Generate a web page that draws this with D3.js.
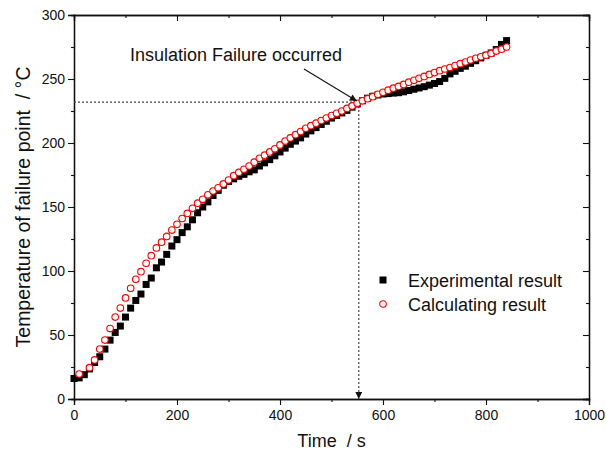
<!DOCTYPE html>
<html>
<head>
<meta charset="utf-8">
<script src="https://cdn.jsdelivr.net/npm/d3@7"></script>
<style>
  body { margin: 0; background: #fff; }
  svg text { font-family: "Liberation Sans", Arial, sans-serif; fill: #111; white-space: pre; }
</style>
</head>
<body>
<svg id="chart" width="606" height="454"></svg>
<script>
// Donnees (temps en s, temperature en degC).
const expTime = [0, 10, 20, 30, 40, 50, 60, 70, 80, 90, 100, 110, 120, 130, 140, 150, 160, 170, 180, 190,
    200, 210, 220, 230, 240, 250, 260, 270, 280, 290, 300, 310, 320, 330, 340, 350, 360, 370, 380, 390,
    400, 410, 420, 430, 440, 450, 460, 470, 480, 490, 500, 510, 520, 530, 540, 550, 560, 570, 580, 590,
    600, 610, 620, 630, 640, 650, 660, 670, 680, 690, 700, 710, 720, 730, 740, 750, 760, 770, 780, 790,
    800, 810, 820, 830, 840];
const expTemp = [16, 16.5, 19, 23.5, 28.5, 33, 39, 46, 52, 57, 64, 71, 77, 82, 89.5, 94.5, 102.5, 107, 113, 119.5,
    124.5, 130, 134.5, 140, 145.5, 150, 154, 159, 163, 167, 170, 172, 174, 175.5, 177.5, 179, 182, 184.5, 187, 190,
    193, 196, 199, 201.5, 204, 207, 209.5, 212, 214.5, 217, 219.5, 221.5, 223.5, 225.5, 228, 230.5, 233, 235, 236.5, 237.5,
    238.3, 238.6, 239, 239.3, 240, 241, 242, 243, 244, 245.2, 246.5, 248, 250.5, 254, 256, 258.3, 260, 262.2, 264.3, 266.5,
    268.5, 270.3, 273, 277, 280];

const calcTime = [10, 30, 40, 50, 60, 70, 80, 90, 100, 110, 120, 130, 140, 150, 160, 170, 180, 190,
    200, 210, 220, 230, 240, 250, 260, 270, 280, 290, 300, 310, 320, 330, 340, 350, 360, 370, 380, 390,
    400, 410, 420, 430, 440, 450, 460, 470, 480, 490, 500, 510, 520, 530, 540, 550, 560, 570, 580, 590,
    600, 610, 620, 630, 640, 650, 660, 670, 680, 690, 700, 710, 720, 730, 740, 750, 760, 770, 780, 790,
    800, 810, 820, 830, 840];
const calcTemp = [19.5, 24.5, 30.5, 39, 46, 55, 64, 71, 79, 86.5, 93.5, 99.5, 106, 112, 118, 122.5, 127, 132,
    136.5, 141, 145, 149, 153, 156, 159.5, 162.5, 165, 168, 171, 174.5, 177, 179.5, 182, 185, 188, 190.5, 193, 195.5,
    198.5, 201.5, 204, 206.5, 209, 211.5, 213.5, 215.5, 217.5, 219.5, 221.5, 223.2, 225, 227, 229, 231, 233, 234.6, 236.2, 238,
    239.6, 241.3, 242.8, 244.2, 245.8, 247.5, 249, 250.5, 252, 253.6, 255, 256.5, 257.8, 259, 260.5, 262, 263.3, 264.8, 266.2, 267.4,
    268.6, 270, 271.8, 273.3, 275];

const xTicks = [0, 200, 400, 600, 800, 1000];
const yTicks = [0, 50, 100, 150, 200, 250, 300];
const failure = { time: 553, temp: 232 };
const legendLabels = ["Experimental result", "Calculating result"];

const svg = d3.select("#chart");
const margin = { left: 74, right: 17, top: 15, bottom: 55 };
const width = 606 - margin.left - margin.right;
const height = 454 - margin.top - margin.bottom;

const g = svg.append("g").attr("transform", "translate(" + margin.left + "," + margin.top + ")");

const x = d3.scaleLinear().domain([0, 1000]).range([0, width]);
const y = d3.scaleLinear().domain([0, 300]).range([height, 0]);

// Graduations mineures et majeures.
function drawAxis(axis, transform, showLabels) {
    const major = g.append("g").attr("transform", transform).call(axis);
    if (!showLabels) major.selectAll("text").remove();
    major.select(".domain").attr("stroke", "#111").attr("stroke-width", 1.3);
    major.selectAll(".tick line").attr("stroke", "#111").attr("stroke-width", 1.1);
    major.selectAll("text").attr("font-size", 14).attr("fill", "#111");
    return major;
}

const xMinor = d3.range(100, 1000, 200);
const yMinor = d3.range(25, 300, 50);

drawAxis(d3.axisBottom(x).tickValues(xTicks).tickSize(6).tickPadding(5).tickFormat(d3.format("d")),
    "translate(0," + height + ")", true);
drawAxis(d3.axisBottom(x).tickValues(xMinor).tickSize(3).tickFormat(""), "translate(0," + height + ")", false);
drawAxis(d3.axisLeft(y).tickValues(yTicks).tickSize(6).tickPadding(3).tickFormat(d3.format("d")), null, true);
drawAxis(d3.axisLeft(y).tickValues(yMinor).tickSize(3).tickFormat(""), null, false);
drawAxis(d3.axisBottom(x).tickValues(xTicks).tickSize(6).tickFormat(""), "translate(0,0)", false);
drawAxis(d3.axisBottom(x).tickValues(xMinor).tickSize(3).tickFormat(""), "translate(0,0)", false);
drawAxis(d3.axisLeft(y).tickValues(yTicks).tickSize(6).tickFormat(""), "translate(" + width + ",0)", false);
drawAxis(d3.axisLeft(y).tickValues(yMinor).tickSize(3).tickFormat(""), "translate(" + width + ",0)", false);

// Fleches
const defs = svg.append("defs");
defs.append("marker")
    .attr("id", "arrow")
    .attr("viewBox", "0 0 10 10")
    .attr("refX", 10).attr("refY", 5)
    .attr("markerWidth", 9).attr("markerHeight", 7)
    .attr("markerUnits", "userSpaceOnUse")
    .attr("orient", "auto")
    .append("path").attr("d", "M0,0 L10,5 L0,10 Z").attr("fill", "#111");

// Lignes pointillees vers le point de defaillance.
g.append("line")
    .attr("x1", 0).attr("x2", x(failure.time) - 2)
    .attr("y1", y(failure.temp)).attr("y2", y(failure.temp))
    .attr("stroke", "#444").attr("stroke-width", 1.2).attr("stroke-dasharray", "2,2");
g.append("line")
    .attr("x1", x(failure.time)).attr("x2", x(failure.time))
    .attr("y1", y(failure.temp)).attr("y2", height)
    .attr("stroke", "#444").attr("stroke-width", 1.2).attr("stroke-dasharray", "2,2")
    .attr("marker-end", "url(#arrow)");

// Donnees experimentales (carres noirs).
g.selectAll(".exp")
    .data(expTime.map(function(t, i) { return [t, expTemp[i]]; }))
    .enter()
    .append("rect")
    .attr("class", "exp")
    .attr("x", function(d) { return x(d[0]) - 3.5; })
    .attr("y", function(d) { return y(d[1]) - 3.5; })
    .attr("width", 7).attr("height", 7)
    .attr("fill", "#000");

// Resultats calcules (cercles rouges).
g.selectAll(".calc")
    .data(calcTime.map(function(t, i) { return [t, calcTemp[i]]; }))
    .enter()
    .append("circle")
    .attr("class", "calc")
    .attr("cx", function(d) { return x(d[0]); })
    .attr("cy", function(d) { return y(d[1]); })
    .attr("r", 3.3)
    .attr("fill", "#fff")
    .attr("stroke", "#f00")
    .attr("stroke-width", 1.1);

// Annotation.
g.append("text")
    .attr("x", 130 - margin.left).attr("y", 61 - margin.top)
    .attr("font-size", 18)
    .text("Insulation Failure occurred");
g.append("line")
    .attr("x1", 304 - margin.left).attr("y1", 69 - margin.top)
    .attr("x2", x(failure.time) - 2).attr("y2", y(failure.temp) - 1)
    .attr("stroke", "#111").attr("stroke-width", 1.1)
    .attr("marker-end", "url(#arrow)");

// Legende.
const legend = g.append("g").attr("transform", "translate(" + (383 - margin.left) + "," + (280 - margin.top) + ")");
legend.append("rect").attr("x", -3.5).attr("y", -3.5).attr("width", 7).attr("height", 7).attr("fill", "#000");
legend.append("circle").attr("cx", 0).attr("cy", 24).attr("r", 3.3)
    .attr("fill", "#fff").attr("stroke", "#f00").attr("stroke-width", 1.1);
legend.selectAll(".legend-text")
    .data(legendLabels)
    .enter()
    .append("text")
    .attr("x", 25)
    .attr("y", function(_, i) { return 6.5 + i * 24; })
    .attr("font-size", 18)
    .text(function(d) { return d; });

// Titres des axes.
g.append("text")
    .attr("x", width / 2).attr("y", 447 - margin.top)
    .attr("text-anchor", "middle").attr("font-size", 18)
    .text("Time  / s");
g.append("text")
    .attr("transform", "translate(" + (30 - margin.left) + "," + (height / 2) + ") rotate(-90)")
    .attr("text-anchor", "middle").attr("font-size", 19.5)
    .text("Temperature of failure point  / °C");
</script>
</body>
</html>
